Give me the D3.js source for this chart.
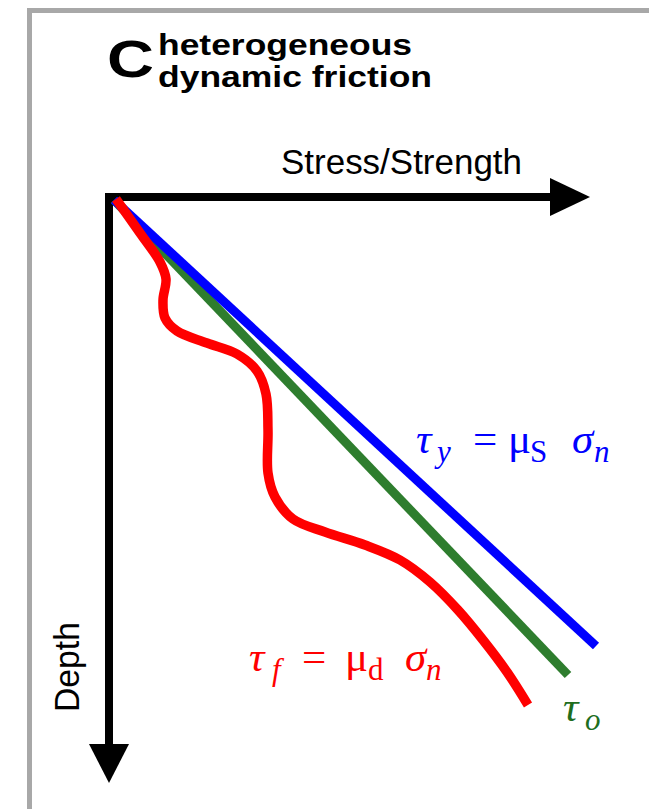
<!DOCTYPE html>
<html>
<head>
<meta charset="utf-8">
<script src="https://cdn.jsdelivr.net/npm/d3@7"></script>
<style>
  html, body { margin: 0; padding: 0; background: #fff; }
  svg { display: block; }
</style>
</head>
<body>
<div id="chart"></div>
<script>
// schematic: stress/strength vs depth, in arbitrary units (0..100)
let yieldStress = [[1, 0.6], [97.4, 89.8]];          // tau_y = mu_s sigma_n
let initStress  = [[1, 0.6], [91.8, 95.6]];          // tau_o
let frictionStress = [                               // tau_f = mu_d sigma_n
    [1.4, 0.4], [6.2, 7.2], [10.2, 13], [11.4, 16.4], [10.8, 20.6],
    [11.2, 24.2], [13.6, 26.8], [19.6, 29.2], [25.6, 31.4], [29.6, 34.8],
    [31.4, 39.4], [31.8, 46.6], [31.8, 55.2], [33.2, 60], [36.8, 64.4],
    [43.2, 67], [51.2, 69.6], [58.2, 72.6], [64.2, 77], [69.8, 82.6],
    [74.8, 88.6], [79.6, 95], [83.8, 101.6]
];

let titleLetter = "C";
let titleLines = ["heterogeneous", "dynamic friction"];
let xLabel = "Stress/Strength";
let yLabel = "Depth";

// equation pieces: text, italic?, subscript?, offset from label start (px)
let yieldLabel = [
    {t: "τ", it: true, dx: 0}, {t: "y", it: true, sub: true, dx: 21}, {t: "=", dx: 57},
    {t: "μ", dx: 92}, {t: "S", sub: true, dx: 114}, {t: "σ", it: true, dx: 156},
    {t: "n", it: true, sub: true, dx: 178}
];
let frictionLabel = [
    {t: "τ", it: true, dx: 0}, {t: "f", it: true, sub: true, dx: 23}, {t: "=", dx: 53},
    {t: "μ", dx: 96}, {t: "d", sub: true, dx: 119}, {t: "σ", it: true, dx: 156},
    {t: "n", it: true, sub: true, dx: 177}
];
let initLabel = [{t: "τ", it: true, dx: 0}, {t: "o", it: true, sub: true, dx: 22}];

let width = 649, height = 809;
let sans = "'Liberation Sans', Arial, Helvetica, sans-serif";
let serif = "'Liberation Serif', 'DejaVu Serif', serif";

let svg = d3.select("#chart").append("svg")
    .attr("width", width)
    .attr("height", height);

svg.append("rect")
    .attr("width", width).attr("height", height)
    .attr("fill", "#fff");

// grey panel frame (runs off the right and bottom edges)
svg.append("rect")
    .attr("x", 29.5).attr("y", 10.5)
    .attr("width", 700).attr("height", 900)
    .attr("fill", "none")
    .attr("stroke", "#a8a8a8")
    .attr("stroke-width", 5);

let x = d3.scaleLinear().domain([0, 100]).range([109, 609]);
let y = d3.scaleLinear().domain([0, 100]).range([197, 697]);

// axes as arrows
let axisW = 8;
let axes = svg.append("g").attr("class", "axes");
axes.append("line")
    .attr("x1", x(-0.8)).attr("x2", x(89))
    .attr("y1", y(0)).attr("y2", y(0))
    .attr("stroke", "#000").attr("stroke-width", axisW);
axes.append("path")
    .attr("d", d3.line()([[x(88.2), y(0) - 19], [x(96.2), y(0)], [x(88.2), y(0) + 19]]) + "Z")
    .attr("fill", "#000");
axes.append("line")
    .attr("x1", x(0)).attr("x2", x(0))
    .attr("y1", y(-0.8)).attr("y2", y(110))
    .attr("stroke", "#000").attr("stroke-width", axisW);
axes.append("path")
    .attr("d", d3.line()([[x(0) - 20, y(109.4)], [x(0), y(117.2)], [x(0) + 20, y(109.4)]]) + "Z")
    .attr("fill", "#000");

let line = d3.line().x(d => x(d[0])).y(d => y(d[1]));
let curve = d3.line().x(d => x(d[0])).y(d => y(d[1])).curve(d3.curveCatmullRom.alpha(0.5));

let series = [
    {data: initStress, color: "#2e7d2e", w: 9, gen: line},
    {data: yieldStress, color: "#0000ff", w: 9, gen: line},
    {data: frictionStress, color: "#ff0000", w: 9.5, gen: curve}
];

svg.append("g").attr("class", "lines")
    .selectAll("path")
    .data(series).enter()
    .append("path")
    .attr("d", s => s.gen(s.data))
    .attr("fill", "none")
    .attr("stroke", s => s.color)
    .attr("stroke-width", s => s.w)
    .attr("stroke-linecap", "butt")
    .attr("stroke-linejoin", "round");

// title
svg.append("text")
    .attr("x", 107).attr("y", 77)
    .attr("font-family", sans).attr("font-weight", "bold")
    .attr("font-size", 52)
    .attr("textLength", 47).attr("lengthAdjust", "spacingAndGlyphs")
    .text(titleLetter);
svg.selectAll("text.subtitle")
    .data(titleLines).enter()
    .append("text")
    .attr("class", "subtitle")
    .attr("x", 158)
    .attr("y", (d, i) => 55 + i * 32)
    .attr("font-family", sans).attr("font-weight", "bold")
    .attr("font-size", 30)
    .attr("textLength", (d, i) => i ? 274 : 254)
    .attr("lengthAdjust", "spacingAndGlyphs")
    .text(d => d);

// axis labels
svg.append("text")
    .attr("x", 281).attr("y", 174)
    .attr("font-family", sans).attr("font-size", 35)
    .attr("textLength", 241).attr("lengthAdjust", "spacingAndGlyphs")
    .text(xLabel);
svg.append("text")
    .attr("transform", "translate(79,712) rotate(-90)")
    .attr("font-family", sans).attr("font-size", 35)
    .attr("textLength", 90).attr("lengthAdjust", "spacingAndGlyphs")
    .text(yLabel);

// equation labels: one text element, pieces placed as tspans
function mathLabel(parts, px, py, color){
    let t = svg.append("text")
        .attr("class", "eq")
        .attr("fill", color)
        .attr("font-family", serif);
    t.selectAll("tspan")
        .data(parts).enter()
        .append("tspan")
        .attr("x", p => px + p.dx)
        .attr("y", p => py + (p.sub ? 9 : 0))
        .attr("font-size", p => p.sub ? 31 : 43)
        .attr("font-style", p => p.it ? "italic" : "normal")
        .text(p => p.t);
    return t;
}

mathLabel(yieldLabel, 416, 453, "#0000ff");
mathLabel(frictionLabel, 249, 671, "#ff0000");
mathLabel(initLabel, 563, 721, "#1e6e1e");
</script>
</body>
</html>
